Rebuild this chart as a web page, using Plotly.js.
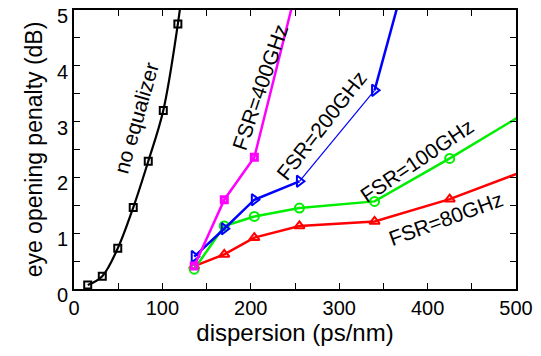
<!DOCTYPE html>
<html>
<head>
<meta charset="utf-8">
<script src="https://cdn.plot.ly/plotly-3.0.1.min.js"></script>
<style>html,body{margin:0;padding:0;background:#fff;}#chart{width:541px;height:356px;}</style>
</head>
<body>
<div id="chart"></div>
<script>
// Data
var noEqX = [15.5, 32, 49.5, 67, 84, 101, 117.5, 122];
var noEqY = [0.07, 0.23, 0.73, 1.46, 2.29, 3.2, 4.75, 5.3];

var fsr400X = [136, 170, 204, 255];
var fsr400Y = [0.41, 1.6, 2.36, 5.6];

var fsr200X = [136, 170, 204, 255, null, 340, 425];
var fsr200Y = [0.58, 1.08, 1.6, 1.93, null, 3.56, 8.5];
var fsr200ThinX = [255, 340];
var fsr200ThinY = [1.93, 3.56];

var fsr100X = [136, 170, 204, 255, 340, 425, 510];
var fsr100Y = [0.355, 1.13, 1.3, 1.45, 1.57, 2.34, 3.15];

var fsr80X = [136, 170, 204, 255, 340, 425, 510];
var fsr80Y = [0.41, 0.62, 0.92, 1.13, 1.21, 1.61, 2.12];

var xTicks = [0, 100, 200, 300, 400, 500];
var yTicks = [0, 1, 2, 3, 4, 5];

var labels = ["no equalizer", "FSR=400GHz", "FSR=200GHz", "FSR=100GHz", "FSR=80GHz"];
var labelX = [70, 210, 280, 388, 421];
var labelY = [3.06, 3.62, 2.93, 2.31, 1.26];
var labelAngle = [-74, -71, -52, -34, -20];

var FONT = "Liberation Sans, Arial, sans-serif";

var traces = [
  {x: fsr80X, y: fsr80Y, mode: "lines+markers", line: {color: "#ff0000", width: 2.5},
   marker: {symbol: "triangle-up-open", size: 9, color: "#ff0000", line: {width: 2}}},
  {x: fsr100X, y: fsr100Y, mode: "lines+markers", line: {color: "#00ee00", width: 2.5},
   marker: {symbol: "circle-open", size: 9, color: "#00ee00", line: {width: 2}}},
  {x: fsr200ThinX, y: fsr200ThinY, mode: "lines", line: {color: "#0000ff", width: 1.2}},
  {x: fsr200X, y: fsr200Y, mode: "lines+markers", connectgaps: false, line: {color: "#0000ff", width: 2.5},
   marker: {symbol: "triangle-right-open", size: 10, color: "#0000ff", line: {width: 2}}},
  {x: fsr400X, y: fsr400Y, mode: "lines+markers", line: {color: "#ff00ff", width: 2.5},
   marker: {symbol: "square-open", size: 6, color: "#ff00ff", line: {width: 3}}},
  {x: noEqX, y: noEqY, mode: "lines+markers", line: {color: "#000000", width: 2.2, shape: "spline"},
   marker: {symbol: "square-open", size: 7, color: "#000000", line: {width: 2}}}
];

var annotations = labels.map(function (t, i) {
  return {x: labelX[i], y: labelY[i], xref: "x", yref: "y", text: t, showarrow: false,
          textangle: labelAngle[i], font: {family: FONT, size: 21, color: "#000"}};
});

var layout = {
  width: 541, height: 356,
  margin: {l: 74, r: 25, t: 10, b: 67},
  paper_bgcolor: "#fff", plot_bgcolor: "#fff",
  showlegend: false,
  font: {family: FONT, size: 20, color: "#000"},
  xaxis: {
    range: [0, 500], tickmode: "array", tickvals: xTicks, ticktext: xTicks.map(String),
    ticks: "inside", ticklen: 6, tickwidth: 1, tickcolor: "#000", ticklabeloverflow: "allow",
    minor: {dtick: 50, tick0: 0, ticks: "inside", ticklen: 6, tickcolor: "#000"},
    showline: true, linewidth: 2, linecolor: "#000", mirror: "ticks", showgrid: false, zeroline: false,
    tickfont: {family: FONT, size: 20, color: "#000"},
    title: {text: "dispersion (ps/nm)", font: {family: FONT, size: 24, color: "#000"}, standoff: 6}
  },
  yaxis: {
    range: [0, 5], tickmode: "array", tickvals: yTicks, ticktext: yTicks.map(String),
    ticks: "inside", ticklen: 6, tickwidth: 1, tickcolor: "#000", ticklabeloverflow: "allow",
    ticklabelshift: 6,
    minor: {dtick: 0.5, tick0: 0, ticks: "inside", ticklen: 6, tickcolor: "#000"},
    showline: true, linewidth: 2, linecolor: "#000", mirror: "ticks", showgrid: false, zeroline: false,
    tickfont: {family: FONT, size: 20, color: "#000"},
    title: {text: "eye opening penalty (dB)", font: {family: FONT, size: 23, color: "#000"}, standoff: 8}
  },
  annotations: annotations
};

Plotly.newPlot("chart", traces, layout, {displayModeBar: false, staticPlot: true});
</script>
</body>
</html>
